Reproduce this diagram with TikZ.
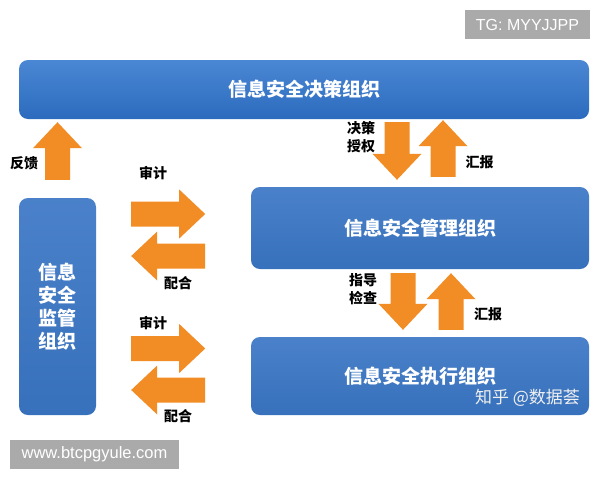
\documentclass[tikz,border=0pt]{standalone}
\usepackage{fontspec}
\setsansfont{Liberation Sans}
\newfontfamily\cjk{Noto Sans CJK SC}
\usetikzlibrary{calc, positioning}
\definecolor{boxblue}{RGB}{44,106,190}
\definecolor{boxbluetop}{RGB}{74,136,212}
\definecolor{flatblue}{RGB}{58,118,197}
\definecolor{arroworange}{RGB}{242,140,36}
\definecolor{markgray}{RGB}{170,170,170}

% fat arrow from #1 (tail) to #2 (tip)
\newcommand{\blockarrow}[2]{%
  \path ($(#2)!26pt!(#1)$) coordinate (ba-h);
  \fill[arroworange]
    ($(#1)!12.5pt!90:(#2)$) -- ($(ba-h)!12.5pt!90:(#2)$) -- ($(ba-h)!24.5pt!90:(#2)$)
    -- (#2) -- ($(ba-h)!24.5pt!-90:(#2)$) -- ($(ba-h)!12.5pt!-90:(#2)$)
    -- ($(#1)!12.5pt!-90:(#2)$) -- cycle;
}

\begin{document}
\begin{tikzpicture}[x=1pt, y=-1pt,
    orgbox/.style={rounded corners=9pt, top color=boxbluetop, bottom color=boxblue,
      text=white, align=center, inner sep=0pt,
      font=\cjk\bfseries\fontsize{19pt}{23pt}\selectfont},
    flatbox/.style={orgbox, top color=flatblue!92!white, bottom color=flatblue!95!black},
    lbl/.style={align=center, inner sep=0pt,
      font=\cjk\bfseries\fontsize{14pt}{18pt}\selectfont},
    wmark/.style={fill=markgray, text=white, inner sep=0pt,
      font=\sffamily\fontsize{16pt}{16pt}\selectfont}]
    \useasboundingbox[fill=white] (0,0) rectangle (600,480);

    % Organisations
    \node[orgbox, minimum width=570pt, minimum height=59pt] (dec) at (304,89.5) {信息安全决策组织};
    \node[flatbox, minimum width=77pt, minimum height=217pt] (sup) at (57.5,306.5) {信息\\安全\\监管\\组织};
    \node[flatbox, minimum width=338pt, minimum height=82pt] (mgt) at (420,228) {信息安全管理组织};
    \node[flatbox, minimum width=338pt, minimum height=78pt] (exe) at (420,376) {信息安全执行组织};

    % Arrow ends
    \coordinate (fb-s) at ($(sup.north)+(0,-18)$);
    \coordinate (fb-t) at ($(sup.north |- dec.south)+(0,3)$);
    \coordinate (dc-s) at ($(dec.south)+(93,3)$);
    \coordinate (dc-t) at ($(mgt.north)+(-23,-7)$);
    \coordinate (rp1-s) at ($(mgt.north)+(23,-10)$);
    \coordinate (rp1-t) at ($(dec.south)+(139,1)$);
    \coordinate (gd-s) at ($(mgt.south)+(-17,4)$);
    \coordinate (gd-t) at ($(exe.north)+(-17,-7)$);
    \coordinate (rp2-s) at ($(exe.north)+(31,-7)$);
    \coordinate (rp2-t) at ($(mgt.south)+(31,4)$);
    \coordinate (au1-s) at ($(sup.east)+(35,-92.5)$);
    \coordinate (au1-t) at ($(sup.east)+(109,-92.5)$);
    \coordinate (co1-s) at ($(sup.east)+(109,-50.5)$);
    \coordinate (co1-t) at ($(sup.east)+(35,-50.5)$);
    \coordinate (au2-s) at ($(sup.east)+(35,42)$);
    \coordinate (au2-t) at ($(sup.east)+(109,42)$);
    \coordinate (co2-s) at ($(sup.east)+(109,83.5)$);
    \coordinate (co2-t) at ($(sup.east)+(35,83.5)$);

    \foreach \a in {fb, dc, rp1, gd, rp2, au1, co1, au2, co2} {
        \blockarrow{\a-s}{\a-t}
    }

    % Labels
    \node[lbl] (l-fb) at (24,163) {反馈};
    \node[lbl] (l-au1) at (153,173) {审计};
    \node[lbl] (l-co1) at (178,283) {配合};
    \node[lbl] (l-au2) at (153,323) {审计};
    \node[lbl] (l-co2) at (178,416) {配合};
    \node[lbl] (l-dc) at (361,137) {决策\\授权};
    \node[lbl] (l-rp1) at (479.5,162) {汇报};
    \node[lbl] (l-gd) at (363,289) {指导\\检查};
    \node[lbl] (l-rp2) at (488,314) {汇报};

    % Watermarks
    \node[text=white!88!gray, inner sep=0pt, font=\cjk\fontsize{17pt}{17pt}\selectfont] (zh) at (527.5,398) {知乎 @数据荟};
    \node[wmark, minimum width=125pt, minimum height=29pt] (tg) at (527.5,24.5) {TG: MYYJJPP};
    \node[wmark, minimum width=169pt, minimum height=29pt, font=\sffamily\fontsize{16.5pt}{16.5pt}\selectfont] (www) at (94.5,454.5) {www.btcpgyule.com};
\end{tikzpicture}
\end{document}
